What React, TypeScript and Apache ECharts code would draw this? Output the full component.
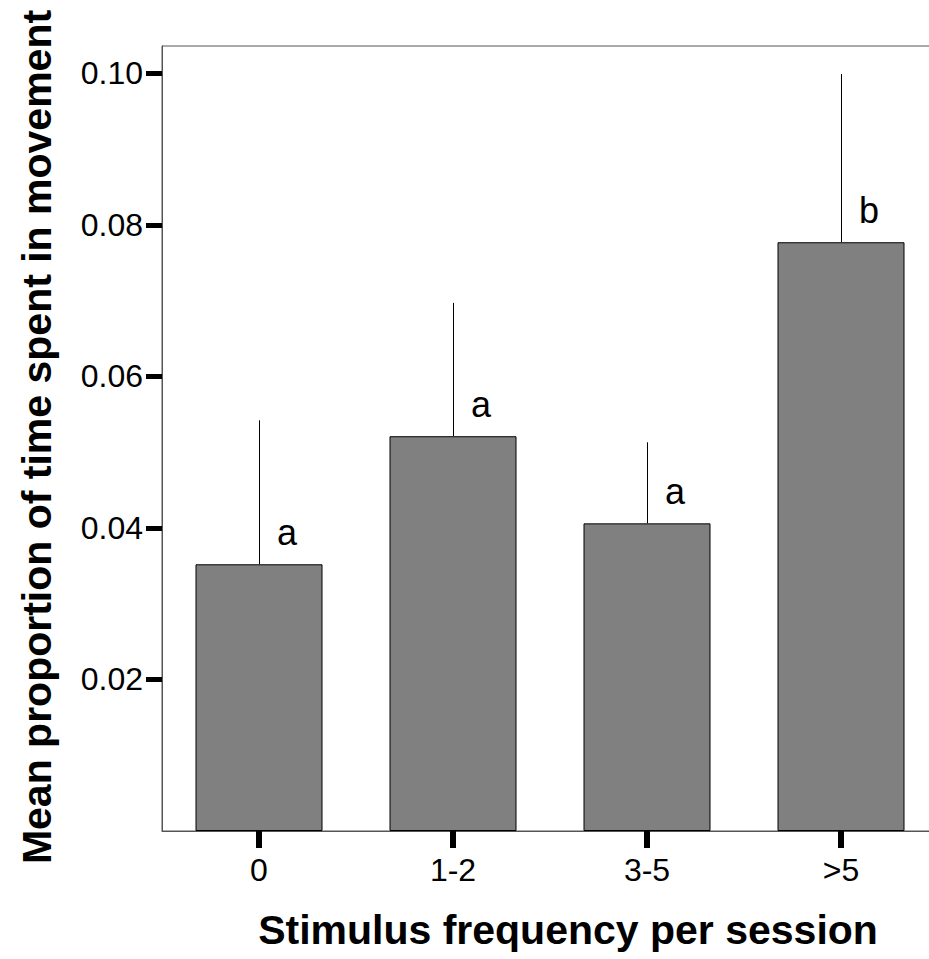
import React, { useEffect, useRef } from "react";
import * as echarts from "echarts";

// Mean proportion of time spent in movement by stimulus frequency group
const categories = ["0", "1-2", "3-5", ">5"];
const meanValues = [0.0352, 0.0521, 0.0406, 0.0777];
const upperErrors = [0.0542, 0.0697, 0.0513, 0.0999];
const groupLetters = ["a", "a", "a", "b"];
const yTickValues = [0.02, 0.04, 0.06, 0.08, 0.1];
const Y_MAX = 0.1036;

const xTitle = "Stimulus frequency per session";
const yTitle = "Mean proportion of time spent in movement";

const FONT = '"Liberation Sans", Arial, Helvetica, sans-serif';

export default function App() {
  const ref = useRef<HTMLDivElement>(null);

  useEffect(() => {
    if (!ref.current) return;
    const chart = echarts.init(ref.current, undefined, { renderer: "svg" });

    const errorData = categories.map((_, i) => [i, meanValues[i], upperErrors[i]]);

    chart.setOption({
      animation: false,
      backgroundColor: "#ffffff",
      grid: {
        left: 162,
        top: 46,
        width: 776,
        bottom: 128,
        outerBoundsMode: "none",
        containLabel: false,
        show: true,
        borderColor: "#555555",
        borderWidth: 1,
        backgroundColor: "transparent",
      },
      xAxis: {
        type: "category",
        data: categories,
        boundaryGap: true,
        axisLine: { show: true, lineStyle: { color: "#555555", width: 1 } },
        axisTick: {
          show: true,
          alignWithLabel: true,
          inside: false,
          length: 17,
          lineStyle: { color: "#000000", width: 6 },
        },
        axisLabel: {
          color: "#000000",
          fontSize: 32,
          fontFamily: FONT,
          margin: 23,
        },
        splitLine: { show: false },
      },
      yAxis: {
        type: "value",
        min: 0,
        max: Y_MAX,
        axisLine: { show: true, lineStyle: { color: "#555555", width: 1 } },
        axisTick: {
          show: true,
          length: 16,
          customValues: yTickValues,
          lineStyle: { color: "#000000", width: 5 },
        },
        axisLabel: {
          customValues: yTickValues,
          color: "#000000",
          fontSize: 32,
          fontFamily: FONT,
          margin: 19,
          padding: [10, 0, 0, 0],
          formatter: (v: number) => v.toFixed(2),
        },
        splitLine: { show: false },
      },
      series: [
        {
          type: "bar",
          data: meanValues,
          barWidth: 127,
          itemStyle: {
            color: "#808080",
            borderColor: "#000000",
            borderWidth: 1,
          },
          z: 2,
        },
        {
          type: "custom",
          data: errorData,
          encode: { x: 0, y: [1, 2] },
          z: 3,
          renderItem: (params: any, api: any) => {
            const base = api.coord([api.value(0), api.value(1)]);
            const top = api.coord([api.value(0), api.value(2)]);
            const letter = groupLetters[params.dataIndex];
            const x = Math.round(base[0]) + 0.5;
            return {
              type: "group",
              children: [
                {
                  type: "line",
                  shape: { x1: x, y1: base[1], x2: x, y2: top[1] },
                  style: { stroke: "#000000", lineWidth: 1 },
                },
                {
                  type: "text",
                  x: base[0] + 28,
                  y: base[1] - 14,
                  style: {
                    text: letter,
                    fill: "#000000",
                    font: `36px ${FONT}`,
                    align: "center",
                    verticalAlign: "bottom",
                  },
                },
              ],
            };
          },
        },
      ],
      graphic: [
        {
          type: "text",
          x: 37,
          y: 437,
          rotation: Math.PI / 2,
          style: {
            text: yTitle,
            fill: "#000000",
            font: `bold 41px ${FONT}`,
            align: "center",
            verticalAlign: "middle",
          },
        },
        {
          type: "text",
          x: 568,
          y: 930,
          style: {
            text: xTitle,
            fill: "#000000",
            font: `bold 41px ${FONT}`,
            align: "center",
            verticalAlign: "middle",
          },
        },
      ],
    });

    return () => chart.dispose();
  }, []);

  return (
    <div
      ref={ref}
      style={{ position: "fixed", left: 0, top: 0, width: 929, height: 959, background: "#ffffff" }}
    />
  );
}
